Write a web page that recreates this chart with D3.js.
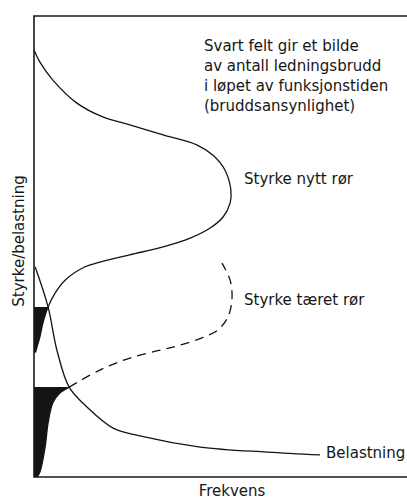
<!DOCTYPE html>
<html>

<head>
    <meta charset="utf-8">
    <style>
        body {
            margin: 0;
            background: white;
        }

        svg {
            display: block;
        }

        .label {
            font-family: "DejaVu Sans";
            font-size: 15px;
            fill: #161616;
        }

        .curve {
            fill: none;
            stroke: #141414;
            stroke-width: 1.3px;
        }

        .dashed {
            stroke-dasharray: 9 6;
        }

        .brudd {
            fill: #141414;
            stroke: none;
        }

        .frame {
            fill: none;
            stroke: #1a1a1a;
            stroke-width: 1.6px;
        }
    </style>
</head>

<body>
    <svg width="407" height="501"></svg>
</body>

<script src="https://d3js.org/d3.v7.min.js"></script>

<script>

    // f = frekvens, s = styrke/belastning (both 0-100)
    let nyttRor = [
        { f: 0, s: 92.6 }, { f: 1.6, s: 90.0 }, { f: 5.1, s: 86.1 }, { f: 11.6, s: 81.1 },
        { f: 18.6, s: 78.1 }, { f: 25.9, s: 76.4 }, { f: 34.9, s: 74.2 }, { f: 44.1, s: 72.0 },
        { f: 48.4, s: 69.8 }, { f: 51.6, s: 66.6 }, { f: 53.2, s: 62.3 }, { f: 53.0, s: 59.4 },
        { f: 51.1, s: 56.4 }, { f: 47.6, s: 54.0 }, { f: 42.2, s: 51.8 }, { f: 34.9, s: 49.9 },
        { f: 25.9, s: 48.2 }, { f: 17.8, s: 46.6 }, { f: 13.8, s: 45.6 }, { f: 8.4, s: 42.7 },
        { f: 5.7, s: 39.9 }, { f: 3.8, s: 36.9 }, { f: 2.4, s: 33.4 }, { f: 1.6, s: 30.4 },
        { f: 0.8, s: 28.2 }, { f: 0.4, s: 27.0 }
    ]

    let taeretRor = [
        { f: 50.8, s: 46.4 }, { f: 53.0, s: 42.7 }, { f: 53.5, s: 38.4 }, { f: 52.4, s: 34.7 },
        { f: 49.7, s: 31.9 }, { f: 45.4, s: 30.2 }, { f: 39.5, s: 28.6 }, { f: 34.1, s: 27.5 },
        { f: 25.9, s: 25.8 }, { f: 17.8, s: 23.2 }, { f: 9.5, s: 19.5 }, { f: 7.0, s: 18.2 },
        { f: 5.1, s: 16.1 }, { f: 3.8, s: 11.7 }, { f: 3.0, s: 6.5 }, { f: 1.6, s: 1.1 },
        { f: 0.8, s: 0 }
    ]

    let belastning = [
        { f: 0.3, s: 45.6 }, { f: 3.8, s: 36.9 }, { f: 6.2, s: 27.5 }, { f: 9.5, s: 19.5 },
        { f: 14.3, s: 15.2 }, { f: 21.4, s: 10.6 }, { f: 28.6, s: 8.9 }, { f: 44.9, s: 6.5 },
        { f: 63.0, s: 5.4 }, { f: 77.3, s: 4.8 }
    ]

    // where load crosses each strength curve
    let bruddNytt = 36.9
    let bruddTaeret = 19.5

    let notat = [
        "Svart felt gir et bilde",
        "av antall ledningsbrudd",
        "i løpet av funksjonstiden",
        "(bruddsansynlighet)"
    ]

    let width = 407;
    let height = 501;
    let margin = { top: 16, right: 3, bottom: 24, left: 34 };

    let svg = d3.select("svg")

    let x = d3.scaleLinear()
        .domain([0, 100])
        .range([margin.left, width - margin.right])

    let y = d3.scaleLinear()
        .domain([0, 100])
        .range([height - margin.bottom, margin.top])

    let line = d3.line()
        .curve(d3.curveCatmullRom)
        .x(d => x(d.f))
        .y(d => y(d.s))

    let area = d3.area()
        .curve(d3.curveCatmullRom)
        .x0(x(0))
        .x1(d => x(d.f))
        .y(d => y(d.s))

    // black fields
    svg.append("path")
        .attr("class", "brudd")
        .attr("d", area(nyttRor.filter(d => d.s <= bruddNytt)))

    svg.append("path")
        .attr("class", "brudd")
        .attr("d", area(taeretRor.filter(d => d.s <= bruddTaeret)))

    // frame
    svg.append("path")
        .attr("class", "frame")
        .attr("d", `M${width},${y(100)}H${x(0)}V${y(0)}H${width}`)

    svg.append("path")
        .attr("class", "curve")
        .attr("d", line(nyttRor))

    svg.append("path")
        .attr("class", "curve dashed")
        .attr("d", line(taeretRor.filter(d => d.s >= bruddTaeret).reverse()))

    svg.append("path")
        .attr("class", "curve")
        .attr("d", line(taeretRor.filter(d => d.s <= bruddTaeret)))

    svg.append("path")
        .attr("class", "curve")
        .attr("d", line(belastning))

    // texts
    svg.append("g")
        .selectAll("text")
        .data(notat)
        .join("text")
        .attr("class", "label")
        .attr("x", 204)
        .attr("y", (d, i) => 51 + i * 20)
        .text(d => d)

    svg.append("text")
        .attr("class", "label")
        .attr("x", 244)
        .attr("y", 184)
        .text("Styrke nytt rør")

    svg.append("text")
        .attr("class", "label")
        .attr("x", 244)
        .attr("y", 305)
        .text("Styrke tæret rør")

    svg.append("text")
        .attr("class", "label")
        .attr("x", 326)
        .attr("y", 458)
        .text("Belastning")

    svg.append("text")
        .attr("class", "label")
        .attr("text-anchor", "middle")
        .attr("transform", "translate(24,241) rotate(-90)")
        .text("Styrke/belastning")

    svg.append("text")
        .attr("class", "label")
        .attr("text-anchor", "middle")
        .attr("x", 232)
        .attr("y", 496)
        .text("Frekvens")

</script>

</html>
